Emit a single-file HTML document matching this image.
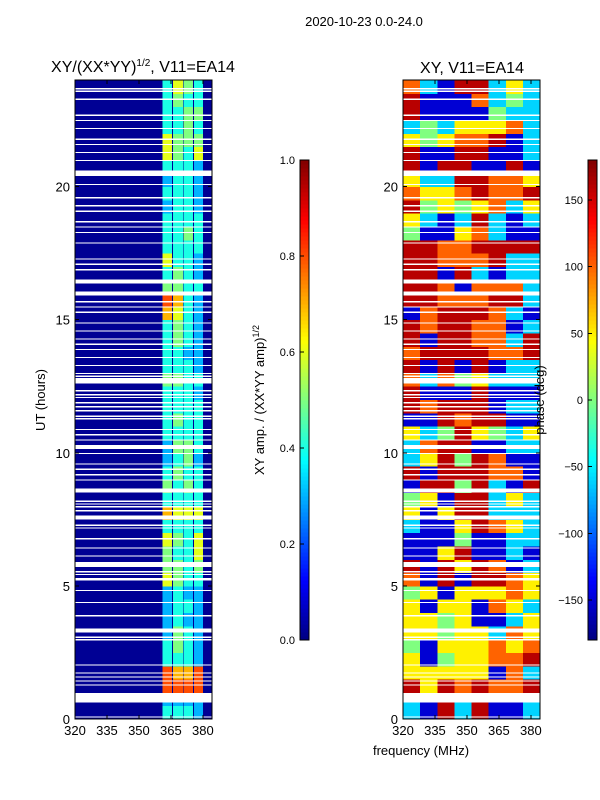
<!DOCTYPE html>
<html><head><meta charset="utf-8">
<style>
body{margin:0;background:#fff;}
svg{display:block;font-family:"Liberation Sans",sans-serif;}
</style></head>
<body>
<svg id="fig" width="600" height="800" viewBox="0 0 600 800" shape-rendering="crispEdges">
<rect width="600" height="800" fill="#fff"/>
<text x="364" y="26" font-size="13" text-anchor="middle">2020-10-23 0.0-24.0</text>
<text x="143" y="72" font-size="16" text-anchor="middle">XY/(XX*YY)<tspan font-size="10" dy="-6">1/2</tspan><tspan dy="6">, V11=EA14</tspan></text>
<text x="472" y="73" font-size="16" text-anchor="middle">XY, V11=EA14</text>
<text transform="translate(45,400) rotate(-90)" font-size="13" text-anchor="middle">UT (hours)</text>
<text x="421" y="755" font-size="13" text-anchor="middle">frequency (MHz)</text>
<text transform="translate(264,400) rotate(-90)" font-size="13" text-anchor="middle">XY amp. / (XX*YY amp)<tspan font-size="9" dy="-5">1/2</tspan></text>
<g id="left"></g>
<g id="right"></g>
<g id="axes"></g>
<text transform="translate(544,400) rotate(-90)" font-size="13" text-anchor="middle">phase (deg)</text>
</svg>
<script>
// ---- data ----
const ampStripes = [[361,365.5],[366,370.7],[371,375.4],[375.8,380]];
const ampRows = ["4443","3333","8888","8778","4443","4543","3543","3433","3443","3433",
"6544","5545","5446","6546","4444","7666","4444","5454","4544","3453",
"3554","4444","4544","4444","4443","5544","4443","4433","4543","4543",
"7643","8743","5544","4543","6443","4444","4454","4444","3443","4443",
"3443","4443","6546","6555","4454","4455","4544","4654"];
const ampBackground = 0.02;
const phaseCodes = {b:-150,c:-60,g:0,y:50,o:100,r:160};
const phaseRows = ["cbrcrbbc","cbrcrbbc","ryroroor","yyyyyboc","ybgyyoor","gbyyyoyo","yygyycoy","yygybbcy","ybyyboyc","gybyyyoy",
"obrbrroy","rbryrobc","bbyrbbcb","bbbgbbcc","cbbyroyc","ybyrrccc","gybrrcyc","brrgrcbr","rbrrroob","cyrgrobb",
"corrbbcc","ycgrygcy","bbrorrbb","rorrrbcc","rbbbrbbb","ocogyccc","rbrbrbcc","orrrroor","rbrroocr","rorroobc",
"borrrocb","rrooorrc","rroboooc","rrbrcbcc","rrooorcc","rroorrrr","gbbyocbb","ycbcrcbc","rgygyocy","oyyoroor",
"yccrrooy","rbrrbbrb","rbbrrbbc","ygyoorbc","cgcyyyoc","rbbbbgcc","rbbbocgc","ocbrrcyc"];
const gapsThick = [[0.62,0.98],[3.25,3.4],[5.2,5.3],[5.7,5.9],[7.5,7.65],[8.5,8.65],[10.15,10.3],[12.6,12.8],[15.9,16.05],[16.35,16.5],[20.4,20.6]];
const gapsThin = [0.1,1.3,1.45,1.6,1.75,2.05,3.0,3.1,3.9,4.4,4.85,5.45,5.55,6.15,6.45,6.8,7.2,7.3,7.85,8.0,8.1,8.2,9.0,9.2,9.4,9.6,10.0,10.5,10.7,10.9,11.3,11.4,11.6,11.75,11.9,12.1,12.2,12.35,12.9,13.0,13.3,13.6,13.9,14.1,14.3,14.6,14.9,15.3,15.5,15.7,16.9,17.1,17.3,17.9,18.3,18.5,18.7,19.1,19.3,19.6,20.1,21.0,21.3,21.6,21.8,22.2,22.5,22.7,23.3,23.6,23.7];
const xTicks = [320,335,350,365,380];
const yTicks = [0,5,10,15,20];
const ampTicks = [0.0,0.2,0.4,0.6,0.8,1.0];
const phaseTicks = [-150,-100,-50,0,50,100,150];

// ---- scales ----
const NS="http://www.w3.org/2000/svg";
const fMin=320,fMax=384.3,yTop=80,yBot=719;
const panels={left:75,right:403}, pw=137;
const xs=(x0,f)=>x0+(f-fMin)/(fMax-fMin)*pw;
const ys=h=>yBot-(h/24)*(yBot-yTop);
function jet(v){v=Math.max(0,Math.min(1,v));
 const c=x=>Math.round(255*Math.max(0,Math.min(1,1.5-Math.abs(4*v-x))));
 return `rgb(${c(3)},${c(2)},${c(1)})`;}
function mk(tag,a,parent){const e=document.createElementNS(NS,tag);for(const k in a)e.setAttribute(k,a[k]);parent.appendChild(e);return e;}

const L=document.getElementById('left');
let bg=mk('rect',{x:panels.left,y:yTop,width:pw,height:yBot-yTop,fill:jet(ampBackground)},L);


ampRows.forEach((row,i)=>{
 ampStripes.forEach((s,j)=>{
  const v=parseInt(row[j])/10;
  const r=mk('rect',{x:xs(panels.left,s[0]),y:ys((i+1)*0.5),width:xs(panels.left,s[1])-xs(panels.left,s[0]),height:ys(i*0.5)-ys((i+1)*0.5)+0.5,fill:jet(v)},L);
  
  
 });
});
const R=document.getElementById('right');
const nc=8,cw=(fMax-fMin)/nc;
phaseRows.forEach((row,i)=>{
 for(let j=0;j<nc;j++){
  const p=phaseCodes[row[j]];
  const r=mk('rect',{x:xs(panels.right,fMin+j*cw),y:ys((i+1)*0.5),width:xs(panels.right,fMin+(j+1)*cw)-xs(panels.right,fMin+j*cw)+0.5,height:ys(i*0.5)-ys((i+1)*0.5)+0.5,fill:jet((p+180)/360)},R);
  
  
 }
});
for(const x0 of [panels.left,panels.right]){
 const G=x0===panels.left?L:R;
 gapsThick.forEach(g=>{const r=mk('rect',{x:x0,y:ys(g[1]),width:pw,height:ys(g[0])-ys(g[1]),fill:'#fff'},G);
  
  });
 gapsThin.forEach(h=>{const r=mk('rect',{x:x0,y:ys(h),width:pw,height:1.3,fill:'#fff'},G);
  
  });
}
const A=document.getElementById('axes');
for(const k of ['left','right']){
 const x0=panels[k];
 const f=mk('rect',{x:x0,y:yTop,width:pw,height:yBot-yTop,fill:'none',stroke:'#000','stroke-width':1},A);
 
 
 xTicks.forEach(t=>{const x=xs(x0,t);
  mk('line',{x1:x,x2:x,y1:yBot,y2:yBot-4,stroke:'#000'},A);
  mk('line',{x1:x,x2:x,y1:yTop,y2:yTop+4,stroke:'#000'},A);
  const tx=mk('text',{x:x,y:yBot+16,'font-size':13,'text-anchor':'middle'},A);tx.textContent=t;
  
  });
 yTicks.forEach(t=>{const y=ys(t);
  mk('line',{x1:x0,x2:x0+4,y1:y,y2:y,stroke:'#000'},A);
  mk('line',{x1:x0+pw,x2:x0+pw-4,y1:y,y2:y,stroke:'#000'},A);
  const tx=mk('text',{x:x0-5,y:y+5,'font-size':13,'text-anchor':'end'},A);tx.textContent=t;
  
  });
}
function cbar(x,ticks,lo,hi,name,fmt){
 const y0=160,y1=640,n=120;
 for(let i=0;i<n;i++){mk('rect',{x:x,y:y1-(i+1)*(y1-y0)/n,width:9,height:(y1-y0)/n+0.5,fill:jet((i+0.5)/n)},A);}
 const f=mk('rect',{x:x,y:y0,width:9,height:y1-y0,fill:'none',stroke:'#000'},A);
 
 
 ticks.forEach(t=>{const y=y1-(t-lo)/(hi-lo)*(y1-y0);
  mk('line',{x1:x,x2:x+4,y1:y,y2:y,stroke:'#000'},A);
  const tx=mk('text',{x:x-5,y:y+4,'font-size':11,'text-anchor':'end'},A);tx.textContent=fmt(t);
  
  });
}
cbar(300,ampTicks,0,1,'amp-colorbar',t=>t.toFixed(1));
cbar(588,phaseTicks,-180,180,'phase-colorbar',t=>String(t).replace('-','\u2212'));
</script>
</body></html>
